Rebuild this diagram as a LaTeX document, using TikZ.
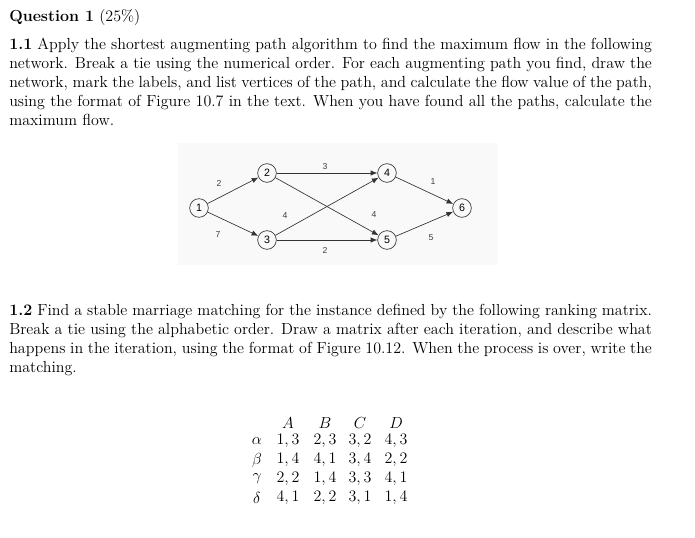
\documentclass[tikz,border=0pt]{standalone}
\usepackage{fontspec}
\usetikzlibrary{arrows.meta}
\newfontfamily\netfont{Liberation Sans}
\begin{document}
\begin{tikzpicture}[x=0.75pt,y=-0.75pt,
  para/.style={anchor=north west,inner sep=0pt,text width=482pt,align=justify,font=\fontsize{12}{14.25}\selectfont},
  vtx/.style={circle,draw=black!80,line width=0.5pt,minimum size=14pt,inner sep=0pt,font=\netfont\fontsize{8}{9}\selectfont},
  arc/.style={-{Latex[length=5pt,width=4pt]},line width=0.5pt,draw=black!80},
  lab/.style={font=\netfont\fontsize{6.5}{7}\selectfont,text=black!75,inner sep=0pt},
  cell/.style={inner sep=0pt,font=\fontsize{12}{13}\selectfont}]
\useasboundingbox (0,0) rectangle (695,538);
\node[anchor=west,inner sep=0pt,font=\fontsize{12}{13}\selectfont] (q) at (9,18) {\textbf{Question 1} (25\%)};
\node[para] (p1) at (9,38) {\textbf{1.1} Apply the shortest augmenting path algorithm to find the maximum flow in the following\linebreak network. Break a tie using the numerical order. For each augmenting path you find, draw the\linebreak network, mark the labels, and list vertices of the path, and calculate the flow value of the path,\linebreak using the format of Figure 10.7 in the text. When you have found all the paths, calculate the\linebreak maximum flow.};
\fill[black!2.5] (178,143) rectangle (498,265);
\node[vtx] (n1) at (199,208) {1};
\node[vtx] (n2) at (267,173) {2};
\node[vtx] (n3) at (267,240) {3};
\node[vtx] (n4) at (387,173) {4};
\node[vtx] (n5) at (387,240) {5};
\node[vtx] (n6) at (462,208) {6};
\draw[arc] (n1) -- (n2);
\draw[arc] (n1) -- (n3);
\draw[arc] (n2) -- (n4);
\draw[arc] (n2) -- (n5);
\draw[arc] (n3) -- (n4);
\draw[arc] (n3) -- (n5);
\draw[arc] (n4) -- (n6);
\draw[arc] (n5) -- (n6);
\node[lab] (l12) at (219,183) {2};
\node[lab] (l13) at (218,235) {7};
\node[lab] (l24) at (325,167) {3};
\node[lab] (l34) at (285,216) {4};
\node[lab] (l25) at (374,215) {4};
\node[lab] (l35) at (325,250) {2};
\node[lab] (l46) at (433,182) {1};
\node[lab] (l56) at (431,238) {5};
\node[para] (p2) at (9,304) {\textbf{1.2} Find a stable marriage matching for the instance defined by the following ranking matrix.\linebreak Break a tie using the alphabetic order. Draw a matrix after each iteration, and describe what\linebreak happens in the iteration, using the format of Figure 10.12. When the process is over, write the\linebreak matching.};
\node[cell] (hA) at (288,423) {$A$};
\node[cell] (hB) at (325,423) {$B$};
\node[cell] (hC) at (360,423) {$C$};
\node[cell] (hD) at (396,423) {$D$};
\node[cell] (ra) at (257,441) {$\alpha$};
\node[cell] (rb) at (257,460) {$\beta$};
\node[cell] (rc) at (257,479) {$\gamma$};
\node[cell] (rd) at (257,498) {$\delta$};
\node[cell] (a1) at (288,441) {$1,3$};
\node[cell] (a2) at (325,441) {$2,3$};
\node[cell] (a3) at (360,441) {$3,2$};
\node[cell] (a4) at (396,441) {$4,3$};
\node[cell] (b1) at (288,460) {$1,4$};
\node[cell] (b2) at (325,460) {$4,1$};
\node[cell] (b3) at (360,460) {$3,4$};
\node[cell] (b4) at (396,460) {$2,2$};
\node[cell] (c1) at (288,479) {$2,2$};
\node[cell] (c2) at (325,479) {$1,4$};
\node[cell] (c3) at (360,479) {$3,3$};
\node[cell] (c4) at (396,479) {$4,1$};
\node[cell] (d1) at (288,498) {$4,1$};
\node[cell] (d2) at (325,498) {$2,2$};
\node[cell] (d3) at (360,498) {$3,1$};
\node[cell] (d4) at (396,498) {$1,4$};
\end{tikzpicture}
\end{document}
